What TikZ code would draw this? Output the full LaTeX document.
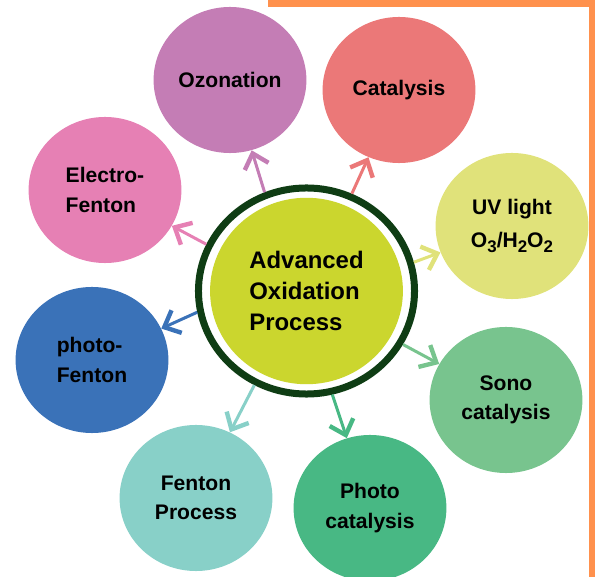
\documentclass[tikz,border=0pt]{standalone}
\usepackage{fontspec}
\setmainfont{Liberation Sans}
\usetikzlibrary{shapes.geometric,arrows.meta}

\definecolor{ozoncol}{HTML}{C47DB5}
\definecolor{catcol}{HTML}{EB7878}
\definecolor{uvcol}{HTML}{E0E27A}
\definecolor{sonocol}{HTML}{78C48E}
\definecolor{photocatcol}{HTML}{48B884}
\definecolor{fentoncol}{HTML}{88D0C8}
\definecolor{photofentoncol}{HTML}{3A72B8}
\definecolor{electrocol}{HTML}{E680B4}
\definecolor{aopcol}{HTML}{CBD62E}
\definecolor{ringcol}{HTML}{0F3D14}
\definecolor{framecol}{HTML}{FF914D}

\newcommand{\sub}[1]{\raisebox{-0.45ex}{\fontsize{12}{12}\selectfont #1}}

\tikzset{
  bubble/.style={ellipse, inner sep=0pt, minimum width=3.82cm, minimum height=3.65cm,
    font=\fontsize{15}{21}\selectfont\bfseries},
  spoke/.style={line width=0.075cm,
    -{Straight Barb[length=0.34cm,width=0.62cm,line width=0.11cm]}},
}

\begin{document}
\begin{tikzpicture}[x=0.025cm, y=-0.025cm]
\useasboundingbox (0,0) rectangle (595,577);

% outer bubbles
\node[bubble, fill=ozoncol] (ozon) at (230,80) {Ozonation};
\node[bubble, fill=catcol] (cat) at (399,90) {Catalysis};
\node[bubble, fill=uvcol, align=center] (uv) at (512,226) {UV light\\[3pt] O\sub{3}/H\sub{2}O\sub{2}};
\node[bubble, fill=sonocol, align=center] (sono) at (506,400) {Sono\\catalysis};
\node[bubble, fill=photocatcol, align=center] (photocat) at (370,508) {Photo\\catalysis};
\node[bubble, fill=fentoncol, align=center] (fenton) at (196,498) {Fenton\\Process};
\node[bubble, fill=photofentoncol, align=left] (photofenton) at (92,360) {photo-\\Fenton};
\node[bubble, fill=electrocol, align=left] (electro) at (105,190) {Electro-\\Fenton};

% centre with ring
\node[ellipse, draw=ringcol, line width=0.175cm, fill=white,
  minimum width=5.4cm, minimum height=5.15cm, align=left,
  font=\fontsize{17}{22}\selectfont\bfseries,
  path picture={\fill[aopcol] (path picture bounding box.center) ellipse[x radius=2.41cm, y radius=2.33cm];}]
  (aop) at (306.5,291) {Advanced\\Oxidation\\Process};

% spokes
\draw[spoke, ozoncol] (aop.113) -- (ozon);
\draw[spoke, catcol] (aop.65) -- (cat);
\draw[spoke, uvcol] (aop.15) -- (uv);
\draw[spoke, sonocol] (aop.331) -- (sono);
\draw[spoke, photocatcol] (aop.284) -- (photocat);
\draw[spoke, fentoncol] (aop.241) -- (fenton);
\draw[spoke, photofentoncol] (aop.191) -- (photofenton);
\draw[spoke, electrocol] (aop.155) -- (electro);

% orange frame
\fill[framecol] (268,0) rectangle (595,7);
\fill[framecol] (589,0) rectangle (595,577);
\end{tikzpicture}
\end{document}
